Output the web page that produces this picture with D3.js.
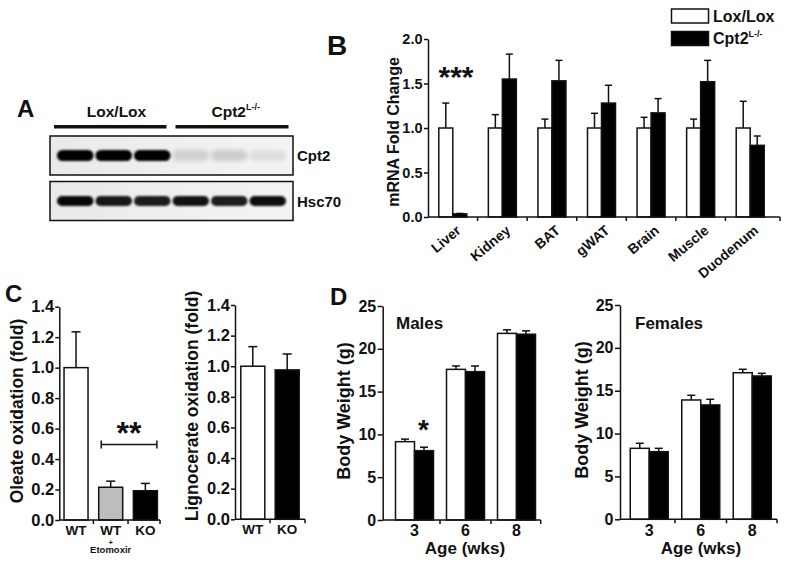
<!DOCTYPE html>
<html>
<head>
<meta charset="utf-8">
<script src="https://cdn.jsdelivr.net/npm/d3@7"></script>
<style>
  body { margin: 0; background: #fff; }
  svg { display: block; font-family: "Liberation Sans", Arial, sans-serif; font-weight: bold; }
  .ax path, .ax line { stroke: #111; stroke-width: 1.5; }
  .ax text { fill: #111; font-weight: bold; }
</style>
</head>
<body>
<div id="canvas"></div>
<script>
// ---- data ----
// A: western blot, relative band intensity per lane
const blotLanes = ["lox1", "lox2", "lox3", "ko1", "ko2", "ko3"];
const cpt2Band = [1, 1, 1, 0.13, 0.15, 0.08];
const hsc70Band = [0.97, 0.9, 0.88, 0.92, 0.88, 0.95];

// B: mRNA fold change
const tissues = ["Liver", "Kidney", "BAT", "gWAT", "Brain", "Muscle", "Duodenum"];
const mrnaLox = [1, 1, 1, 1, 1, 1, 1];
const mrnaLoxErr = [0.28, 0.15, 0.10, 0.165, 0.12, 0.10, 0.30];
const mrnaKO = [0.035, 1.55, 1.53, 1.28, 1.17, 1.52, 0.805];
const mrnaKOErr = [0.005, 0.28, 0.23, 0.20, 0.16, 0.24, 0.105];
const mrnaTicks = [0, 0.5, 1, 1.5, 2];

// C: fatty acid oxidation
const oleateGroups = ["WT", "WT + Etomoxir", "KO"];
const oleate = [1.0, 0.215, 0.192];
const oleateErr = [0.235, 0.04, 0.048];
const lignoGroups = ["WT", "KO"];
const ligno = [1.0, 0.976];
const lignoErr = [0.128, 0.104];
const foldTicks = [0, 0.2, 0.4, 0.6, 0.8, 1.0, 1.2, 1.4];

// D: body weight
const ages = ["3", "6", "8"];
const maleLox = [9.15, 17.6, 21.8];
const maleLoxErr = [0.3, 0.4, 0.42];
const maleKO = [8.1, 17.33, 21.7];
const maleKOErr = [0.4, 0.66, 0.4];
const femaleLox = [8.28, 13.92, 17.1];
const femaleLoxErr = [0.59, 0.55, 0.4];
const femaleKO = [7.89, 13.34, 16.72];
const femaleKOErr = [0.39, 0.66, 0.31];
const weightTicks = [0, 5, 10, 15, 20, 25];

const ink = "#111";
const w = 785, h = 566;

let svg = d3.select("#canvas")
            .append("svg")
                .attr("width", w)
                .attr("height", h)
                .attr("viewBox", [0, 0, w, h]);

const defs = svg.append("defs");
defs.append("filter").attr("id", "blur").attr("x", "-30%").attr("y", "-80%").attr("width", "160%").attr("height", "260%")
    .append("feGaussianBlur").attr("stdDeviation", 1.2);
defs.append("filter").attr("id", "blur2").attr("x", "-30%").attr("y", "-80%").attr("width", "160%").attr("height", "260%")
    .append("feGaussianBlur").attr("stdDeviation", 2.2);
const grad = defs.append("linearGradient").attr("id", "blotbg").attr("x1", 0).attr("x2", 1);
grad.append("stop").attr("offset", 0).attr("stop-color", "#e9e9e9");
grad.append("stop").attr("offset", 0.5).attr("stop-color", "#efefef");
grad.append("stop").attr("offset", 1).attr("stop-color", "#f3f3f3");

function label(txt, x, y, size, opts) {
  opts = opts || {};
  return svg.append("text")
    .attr("x", x).attr("y", y)
    .attr("font-size", size)
    .attr("text-anchor", opts.anchor || "start")
    .attr("fill", ink)
    .text(txt);
}

function rotLabel(txt, x, y, size) {
  svg.append("text")
    .attr("transform", "translate(" + x + "," + y + ") rotate(-90)")
    .attr("text-anchor", "middle")
    .attr("font-size", size)
    .attr("fill", ink)
    .text(txt);
}

// slanted label ending at (x, y)
function slantLabel(txt, x, y, size, deg) {
  svg.append("text")
    .attr("transform", "translate(" + x + "," + y + ") rotate(" + deg + ")")
    .attr("text-anchor", "end")
    .attr("font-size", size)
    .attr("fill", ink)
    .text(txt);
}

// ---- panel A: blot ----
function drawBlot() {
  const lane = d3.scaleBand().domain(blotLanes).range([56, 287]);
  const boxes = [
    { y: 136, hgt: 39, vals: cpt2Band, bandH: 11, name: "Cpt2" },
    { y: 181.5, hgt: 39, vals: hsc70Band, bandH: 10, name: "Hsc70" }
  ];
  boxes.forEach(b => {
    const g = svg.append("g");
    g.append("rect").attr("x", 50).attr("y", b.y).attr("width", 243).attr("height", b.hgt)
      .attr("fill", "url(#blotbg)");
    g.selectAll(null).data(blotLanes).join("rect")
      .attr("x", d => lane(d) + 1)
      .attr("width", lane.bandwidth() - 2)
      .attr("y", b.y + b.hgt / 2 - b.bandH / 2)
      .attr("height", b.bandH)
      .attr("rx", b.bandH / 2)
      .attr("fill", "#050505")
      .attr("opacity", (d, i) => b.vals[i])
      .attr("filter", (d, i) => b.vals[i] < 0.5 ? "url(#blur2)" : "url(#blur)");
    g.append("rect").attr("x", 50).attr("y", b.y).attr("width", 243).attr("height", b.hgt)
      .attr("fill", "none").attr("stroke", ink).attr("stroke-width", 1.5);
    label(b.name, 297, b.y + b.hgt / 2 + 5.5, 15);
  });
  // group lines
  svg.append("line").attr("x1", 54).attr("x2", 166.5).attr("y1", 126.7).attr("y2", 126.7)
    .attr("stroke", ink).attr("stroke-width", 3.5);
  svg.append("line").attr("x1", 175.5).attr("x2", 288.5).attr("y1", 126.7).attr("y2", 126.7)
    .attr("stroke", ink).attr("stroke-width", 3.5);
  label("Lox/Lox", 116.5, 116.7, 15.5, { anchor: "middle" });
  const t = label("Cpt2", 211.5, 116.7, 15.5);
  t.append("tspan").attr("font-size", 9).attr("dy", -6.5).text("L-/-");
}

// ---- generic bar panel ----
function barPanel(o) {
  const g = svg.append("g");
  const y = d3.scaleLinear().domain(o.domain).range([o.bottom, o.top]);
  const x = d3.scaleBand().domain(o.cats).range(o.band);
  const cx = d => x(d) + x.bandwidth() / 2;
  const n = o.series.length;

  // bars + error bars
  o.series.forEach((s, si) => {
    const left = d => cx(d) + (si - n / 2) * o.barW;
    const sg = g.append("g");
    sg.selectAll("line.err").data(o.cats).join("line")
      .attr("x1", d => left(d) + o.barW / 2).attr("x2", d => left(d) + o.barW / 2)
      .attr("y1", (d, i) => y(s.vals[i])).attr("y2", (d, i) => y(s.vals[i] + s.errs[i]))
      .attr("stroke", ink).attr("stroke-width", 1.5);
    sg.selectAll("line.cap").data(o.cats).join("line")
      .attr("x1", d => left(d) + o.barW / 2 - o.cap / 2).attr("x2", d => left(d) + o.barW / 2 + o.cap / 2)
      .attr("y1", (d, i) => y(s.vals[i] + s.errs[i])).attr("y2", (d, i) => y(s.vals[i] + s.errs[i]))
      .attr("stroke", ink).attr("stroke-width", 1.5);
    sg.selectAll("rect").data(o.cats).join("rect")
      .attr("x", left)
      .attr("width", o.barW)
      .attr("y", (d, i) => y(s.vals[i]))
      .attr("height", (d, i) => y(0) - y(s.vals[i]))
      .attr("fill", (d, i) => Array.isArray(s.fill) ? s.fill[i] : s.fill)
      .attr("stroke", ink).attr("stroke-width", 1.5);
  });

  // y axis
  const ya = d3.axisLeft(y).tickValues(o.ticks).tickFormat(o.fmt)
      .tickSize(o.tickLen).tickSizeOuter(0).tickPadding(o.tickPad);
  g.append("g").attr("class", "ax").attr("transform", "translate(" + o.axisX + ",0)").call(ya)
    .selectAll("text").attr("font-size", o.tickFont);

  // x axis line and group ticks
  g.append("line").attr("x1", o.axisX).attr("x2", o.axisEnd).attr("y1", y(0)).attr("y2", y(0))
    .attr("stroke", ink).attr("stroke-width", 1.5);
  const bounds = o.cats.slice(1).map(d => x(d)).concat([o.axisEnd]);
  g.selectAll("line.xt").data(bounds).join("line")
    .attr("x1", d => d).attr("x2", d => d).attr("y1", y(0)).attr("y2", y(0) + 4)
    .attr("stroke", ink).attr("stroke-width", 1.5);

  // category labels
  let xg = null;
  if (o.rotate) {
    o.cats.forEach(c => slantLabel(c, cx(c) + 9, y(0) + 15, o.catFont, o.rotate));
  } else {
    const xa = d3.axisBottom(x).tickSize(0).tickPadding(o.catPad);
    xg = g.append("g").attr("class", "ax").attr("transform", "translate(0," + y(0) + ")").call(xa);
    xg.select(".domain").remove();
    xg.selectAll("text").attr("font-size", o.catFont);
  }
  return { g, x, y, cx, xg };
}

drawBlot();

// ---- panel B ----
const pB = barPanel({
  cats: tissues, band: [428, 775], axisX: 428, axisEnd: 780,
  domain: [0, 2], top: 39, bottom: 217, ticks: mrnaTicks, fmt: d3.format(".1f"),
  tickLen: 4, tickPad: 1.5, tickFont: 14.5, catFont: 14, rotate: -40,
  barW: 14, cap: 7,
  series: [{ vals: mrnaLox, errs: mrnaLoxErr, fill: "#fff" }, { vals: mrnaKO, errs: mrnaKOErr, fill: "#000" }]
});
rotLabel("mRNA Fold Change", 399, 132, 16);
label("***", 456, 87, 30, { anchor: "middle" });
label("B", 327, 55, 28);

// legend
svg.append("rect").attr("x", 671.5).attr("y", 9).attr("width", 37).attr("height", 14)
  .attr("fill", "#fff").attr("stroke", ink).attr("stroke-width", 1.5);
svg.append("rect").attr("x", 671.5).attr("y", 31.5).attr("width", 37).attr("height", 14)
  .attr("fill", "#000").attr("stroke", ink).attr("stroke-width", 1.5);
label("Lox/Lox", 713, 21.5, 16);
label("Cpt2", 713, 44, 16).append("tspan").attr("font-size", 9).attr("dy", -7).text("L-/-");

// ---- panel C ----
const pC1 = barPanel({
  cats: oleateGroups, band: [58.7, 162.7], axisX: 59.3, axisEnd: 160,
  domain: [0, 1.4], top: 306.7, bottom: 520, ticks: foldTicks, fmt: d3.format(".1f"),
  tickLen: 4, tickPad: 1, tickFont: 16.5, catFont: 13.5, catPad: 5,
  barW: 24, cap: 9,
  series: [{ vals: oleate, errs: oleateErr, fill: ["#fff", "#bdbdbd", "#000"] }]
});
pC1.xg.selectAll(".tick").each(function(d) {
  const parts = d.split(" + ");
  if (parts.length > 1) {
    const par = d3.select(this);
    par.select("text").text(parts[0]);
    par.append("text").attr("fill", ink).attr("font-size", 7).attr("text-anchor", "middle")
      .attr("y", 24.5).text("+");
    par.append("text").attr("fill", ink).attr("font-size", 9.5).attr("text-anchor", "middle")
      .attr("y", 33).text(parts[1]);
  }
});
// significance bracket
const b1 = pC1.cx("WT + Etomoxir") - 9.5, b2 = pC1.cx("KO") + 11.5, by = pC1.y(0.6) + 16;
svg.append("path").attr("d", "M" + b1 + "," + (by - 4) + "V" + (by + 4) + "M" + b1 + "," + by + "H" + b2 + "M" + b2 + "," + (by - 4) + "V" + (by + 4))
  .attr("fill", "none").attr("stroke", ink).attr("stroke-width", 1.5);
label("**", (b1 + b2) / 2, 444, 32, { anchor: "middle" });
rotLabel("Oleate oxidation (fold)", 23, 411, 17.5);
label("C", 5, 301.7, 24);

const pC2 = barPanel({
  cats: lignoGroups, band: [235.6, 304.4], axisX: 235, axisEnd: 305,
  domain: [0, 1.4], top: 305, bottom: 519.3, ticks: foldTicks, fmt: d3.format(".1f"),
  tickLen: 4, tickPad: 1, tickFont: 16.5, catFont: 13.5, catPad: 5,
  barW: 24, cap: 9,
  series: [{ vals: ligno, errs: lignoErr, fill: ["#fff", "#000"] }]
});
rotLabel("Lignocerate oxidation (fold)", 198, 406, 17.5);

// ---- panel D ----
const pDm = barPanel({
  cats: ages, band: [389, 542], axisX: 382.7, axisEnd: 540.7,
  domain: [0, 25], top: 306, bottom: 520, ticks: weightTicks, fmt: d3.format("d"),
  tickLen: 5, tickPad: 1.5, tickFont: 16, catFont: 16, catPad: 5,
  barW: 19, cap: 8,
  series: [{ vals: maleLox, errs: maleLoxErr, fill: "#fff" }, { vals: maleKO, errs: maleKOErr, fill: "#000" }]
});
label("Age (wks)", 465, 554, 17, { anchor: "middle" });
label("Males", 396, 329, 17);
label("*", pDm.cx("3") + 9, 439, 28, { anchor: "middle" });
rotLabel("Body Weight (g)", 350, 411, 18);
label("D", 330, 305, 24);

const pDf = barPanel({
  cats: ages, band: [623.5, 778], axisX: 620, axisEnd: 777,
  domain: [0, 25], top: 305, bottom: 519.3, ticks: weightTicks, fmt: d3.format("d"),
  tickLen: 5, tickPad: 1.5, tickFont: 16, catFont: 16, catPad: 5,
  barW: 19, cap: 8,
  series: [{ vals: femaleLox, errs: femaleLoxErr, fill: "#fff" }, { vals: femaleKO, errs: femaleKOErr, fill: "#000" }]
});
label("Age (wks)", 701, 554, 17, { anchor: "middle" });
label("Females", 635, 329, 17);
rotLabel("Body Weight (g)", 588, 410, 18);
label("A", 17, 117.3, 24);
</script>
</body>
</html>
